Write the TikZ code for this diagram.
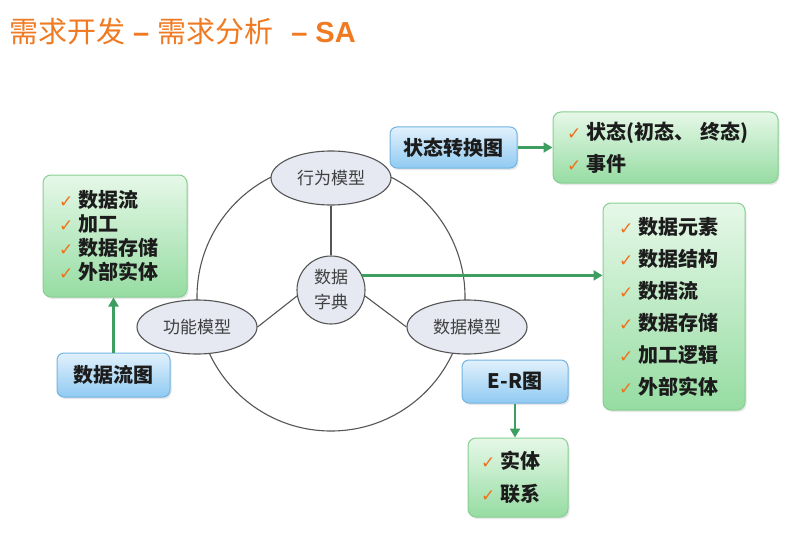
\documentclass[tikz,border=0pt]{standalone}
\usepackage{fontspec}
\setmainfont{Noto Sans CJK SC}
\newfontfamily\symfont{DejaVu Sans}
\newfontfamily\latinfont{Liberation Sans}
\usetikzlibrary{arrows.meta,shapes.geometric,shadows}

\definecolor{titleorange}{HTML}{F07A22}
\definecolor{checkorange}{HTML}{F0701A}
\definecolor{gtop}{HTML}{E6F8E8}
\definecolor{gbot}{HTML}{96DCA2}
\definecolor{gline}{HTML}{86CF92}
\definecolor{btop}{HTML}{E2F1FC}
\definecolor{bbot}{HTML}{90CAF2}
\definecolor{bline}{HTML}{72B4E2}
\definecolor{arrowgreen}{HTML}{3E9E60}
\definecolor{ringgray}{HTML}{555555}
\definecolor{ellfill}{HTML}{E6E8F2}
\definecolor{boxtext}{HTML}{1C1C1C}
\definecolor{elltext}{HTML}{404040}

% orange tick in front of each list item
\newcommand{\tick}{{\symfont\color{checkorange}\fontsize{17}{17}\selectfont ✓}\hspace{5pt}}

\begin{document}
\begin{tikzpicture}[x=1pt,y=-1pt,
  greenbox/.style={draw=gline, line width=1pt, rounded corners=8pt,
    top color=gtop, bottom color=gbot,
    drop shadow={opacity=0.18, shadow xshift=1.5pt, shadow yshift=-2pt},
    align=left, text=boxtext, font=\bfseries\fontsize{20}{32}\selectfont},
  bluebox/.style={draw=bline, line width=1pt, rounded corners=7pt,
    top color=btop, bottom color=bbot,
    drop shadow={opacity=0.18, shadow xshift=1.5pt, shadow yshift=-2pt},
    align=center, text=boxtext, inner sep=0pt, font=\bfseries\fontsize{20}{24}\selectfont},
  model/.style={ellipse, draw=ringgray, line width=1.1pt, fill=ellfill,
    minimum width=120pt, minimum height=54pt, inner sep=0pt,
    text=elltext, font=\fontsize{17}{17}\selectfont},
  ring/.style={draw=ringgray, line width=1.1pt},
  flow/.style={draw=arrowgreen, line width=2.4pt,
    -{Triangle[length=9pt,width=10pt]}}
]
\useasboundingbox[fill=white] (0,0) rectangle (799,540);

% title
\node[anchor=west, text=titleorange, font=\fontsize{29}{29}\selectfont, inner sep=0pt]
  (title) at (9,31) {需求开发\hspace{8pt}{\latinfont\bfseries –}\hspace{8pt}需求分析\hspace{18pt}{\latinfont\bfseries – SA}};

% the big ring joining the three models
\node[circle, ring, minimum size=268pt, inner sep=0pt] (ringc) at (331,297) {};

% models and the data dictionary
\node[circle, draw=ringgray, line width=1.1pt, fill=ellfill, minimum size=68pt, inner sep=0pt,
  align=center, text=elltext, font=\fontsize{17}{25}\selectfont] (dd) at (331,290) {数据\\字典};
\node[model] (bm) at (331,178) {行为模型};
\node[model] (fm) at (197,327) {功能模型};
\node[model] (dm) at (467,327) {数据模型};

\draw[ring] (bm.south) -- (dd.north);
\draw[ring] (dd.190) -- (fm.east);
\draw[ring] (dd.350) -- (dm.west);

% function model side
\node[greenbox, minimum width=144pt, minimum height=122pt, text width=112pt, inner xsep=16pt]
  (dfitems) at (115,236) {\tick 数据流\\[-8pt]\tick 加工\\[-8pt]\tick 数据存储\\[-8pt]\tick 外部实体};
\node[bluebox, minimum width=113pt, minimum height=44pt] (dfd) at (113.5,375) {数据流图};
\draw[flow] (dfd.north) -- (dfd.north |- dfitems.south);

% behaviour model side
\node[bluebox, minimum width=127pt, minimum height=41pt] (std) at (453.5,147.5) {状态转换图};
\node[greenbox, minimum width=225pt, minimum height=71pt, text width=197pt, inner xsep=14pt]
  (stitems) at (665.5,147.5) {\tick 状态(初态、 终态)\\\tick 事件};
\draw[flow] (std.east) -- (stitems.west);

% data dictionary contents
\node[greenbox, minimum width=142pt, minimum height=207pt, text width=110pt, inner xsep=16pt]
  (dditems) at (674,306.5) {\tick 数据元素\\\tick 数据结构\\\tick 数据流\\\tick 数据存储\\\tick 加工逻辑\\\tick 外部实体};
\draw[flow] (dd.25) -- (dd.25 -| dditems.west);

% data model side
\node[bluebox, minimum width=106pt, minimum height=43pt] (er) at (515,381.5) {E-R图};
\node[greenbox, minimum width=100pt, minimum height=79pt, text width=74pt, inner xsep=13pt,
  font=\bfseries\fontsize{20}{33}\selectfont]
  (eritems) at (518,477.5) {\tick 实体\\\tick 联系};
\draw[flow] (er.south) -- (er.south |- eritems.north);
\end{tikzpicture}
\end{document}
